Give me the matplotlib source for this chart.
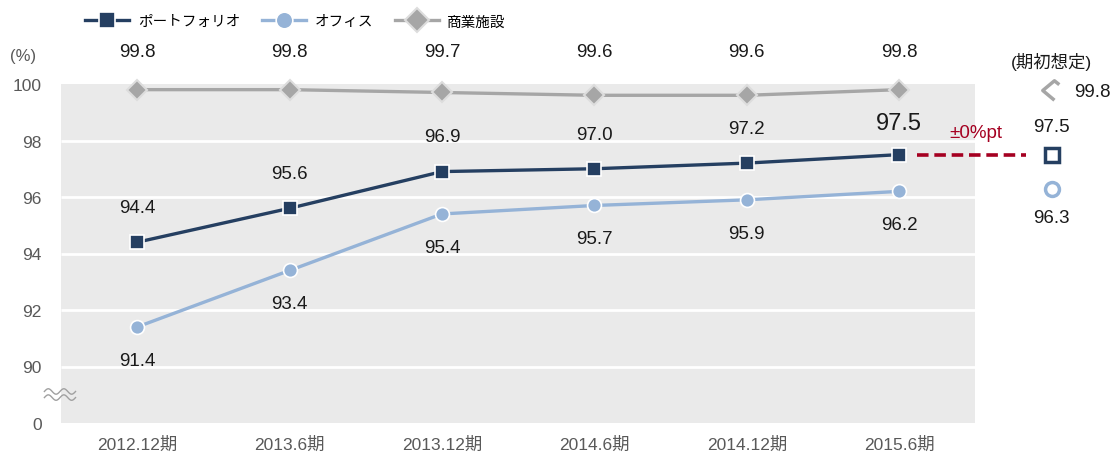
import numpy as np
import matplotlib
matplotlib.use("Agg")
import matplotlib.pyplot as plt
from matplotlib.path import Path

plt.rcParams["font.family"] = ["Liberation Sans", "Noto Sans CJK JP", "DejaVu Sans"]

periods = ["2012.12期", "2013.6期", "2013.12期", "2014.6期", "2014.12期", "2015.6期"]
portfolio = [94.4, 95.6, 96.9, 97.0, 97.2, 97.5]
office = [91.4, 93.4, 95.4, 95.7, 95.9, 96.2]
retail = [99.8, 99.8, 99.7, 99.6, 99.6, 99.8]
series_names = ["ポートフォリオ", "オフィス", "商業施設"]

# 期初想定 (forecast at start of period)
plan_portfolio = 97.5
plan_office = 96.3
plan_retail = 99.8
diff_label = "±0%pt"

ytick_vals = [88, 90, 92, 94, 96, 98, 100]
ytick_labels = ["0", "90", "92", "94", "96", "98", "100"]

NAVY = "#253F61"
LBLUE = "#95B3D7"
GRAY = "#A6A6A6"
RED = "#A50021"
BG = "#EAEAEA"
TXT = "#595959"
LBL = "#1A1A1A"

fig = plt.figure(figsize=(11.12, 4.56), dpi=100)
ax = fig.add_axes([61 / 1112, 32 / 456, 1038 / 1112, 339 / 456])

x = np.arange(len(periods))
xp = len(periods)  # position of the forecast column
ax.set_xlim(-0.5, -0.5 + 1038 / 152.4)
ax.set_ylim(88, 100)

# gray plot background + white grid only over the actual periods
ax.axvspan(-0.5, len(periods) - 0.5, color=BG, zorder=0, lw=0)
ax.hlines([90, 92, 94, 96, 98], -0.5, len(periods) - 0.5, colors="white", lw=2, zorder=1)

for s in ax.spines.values():
    s.set_visible(False)
ax.set_yticks(ytick_vals)
ax.set_yticklabels(ytick_labels, fontsize=12.5, color=TXT)
ax.set_xticks(x)
ax.set_xticklabels(periods, fontsize=12.5, color=TXT)
ax.tick_params(length=0)
ax.tick_params(axis="y", pad=14)
ax.tick_params(axis="x", pad=9)

l1, = ax.plot(x, portfolio, color=NAVY, lw=2.4, marker="s", ms=10, mec="white", mew=1.2, zorder=4, clip_on=False)
l2, = ax.plot(x, office, color=LBLUE, lw=2.4, marker="o", ms=10, mec="white", mew=1.2, zorder=3, clip_on=False)
l3, = ax.plot(x, retail, color=GRAY, lw=2.4, marker="D", ms=10, mec="#DDDDDD", mew=1.5, zorder=3, clip_on=False)

# data labels
for i, v in enumerate(portfolio):
    big = i == len(portfolio) - 1
    ax.annotate(f"{v:.1f}", (i, v), xytext=(0, 25 if not big else 23), textcoords="offset points",
                ha="center", va="center", fontsize=17 if big else 13.5, color=LBL)
for i, v in enumerate(office):
    ax.annotate(f"{v:.1f}", (i, v), xytext=(0, -24), textcoords="offset points",
                ha="center", va="center", fontsize=13.5, color=LBL)
for i, v in enumerate(retail):
    ax.text(i, 1.097, f"{v:.1f}", transform=ax.get_xaxis_transform(),
            ha="center", va="center", fontsize=13.5, color=LBL)

# forecast column
ax.plot([xp], [plan_portfolio], marker="s", ms=10, mfc="white", mec=NAVY, mew=2.5, ls="none", clip_on=False, zorder=5)
ax.plot([xp], [plan_office], marker="o", ms=10, mfc="white", mec=LBLUE, mew=2.5, ls="none", clip_on=False, zorder=5)
chevron = Path([(0.1, -0.5), (-0.5, 0.0), (0.1, 0.5), (0.35, 0.3)],
               [Path.MOVETO, Path.LINETO, Path.LINETO, Path.LINETO])
ax.plot([xp], [plan_retail], marker=chevron, ms=14, mfc="none", mec=GRAY, mew=2.5, ls="none", clip_on=False, zorder=5)
ax.annotate(f"{plan_portfolio:.1f}", (xp, plan_portfolio), xytext=(0, 20), textcoords="offset points",
            ha="center", va="center", fontsize=13.5, color=LBL)
ax.annotate(f"{plan_office:.1f}", (xp, plan_office), xytext=(0, -21), textcoords="offset points",
            ha="center", va="center", fontsize=13.5, color=LBL)
ax.annotate(f"{plan_retail:.1f}", (xp, plan_retail), xytext=(29, -1), textcoords="offset points",
            ha="center", va="center", fontsize=13.5, color=LBL)
ax.text(xp, 1.068, "(期初想定)", transform=ax.get_xaxis_transform(),
        ha="center", va="center", fontsize=12.5, color=LBL)

# change vs forecast
ax.plot([x[-1] + 0.12, xp - 0.17], [portfolio[-1], plan_portfolio], color=RED, lw=2.6,
        ls=(0, (3.2, 1.6)), clip_on=False, zorder=2)
ax.annotate(diff_label, ((x[-1] + xp) / 2, plan_portfolio), xytext=(0, 16), textcoords="offset points",
            ha="center", va="center", fontsize=13.5, color=RED)

# unit + axis break mark
ax.text(-0.037, 1.083, "(%)", transform=ax.transAxes, ha="center", va="center", fontsize=12, color=TXT)
t = np.linspace(0, 1, 60)
for dy in (0.0, 0.018):
    ax.plot(-0.016 + 0.03 * t, 0.075 + dy + 0.008 * np.sin(t * 4 * np.pi), transform=ax.transAxes,
            color="#A0A0A0", lw=1.0, clip_on=False, zorder=6)

fig.legend([l1, l2, l3], series_names, loc="upper left", bbox_to_anchor=(72 / 1112, 0.995),
           ncol=3, frameon=False, fontsize=10.5, handlelength=3.0, columnspacing=1.5,
           handletextpad=0.6, markerscale=1.2)

fig.savefig("out.png", dpi=100)
